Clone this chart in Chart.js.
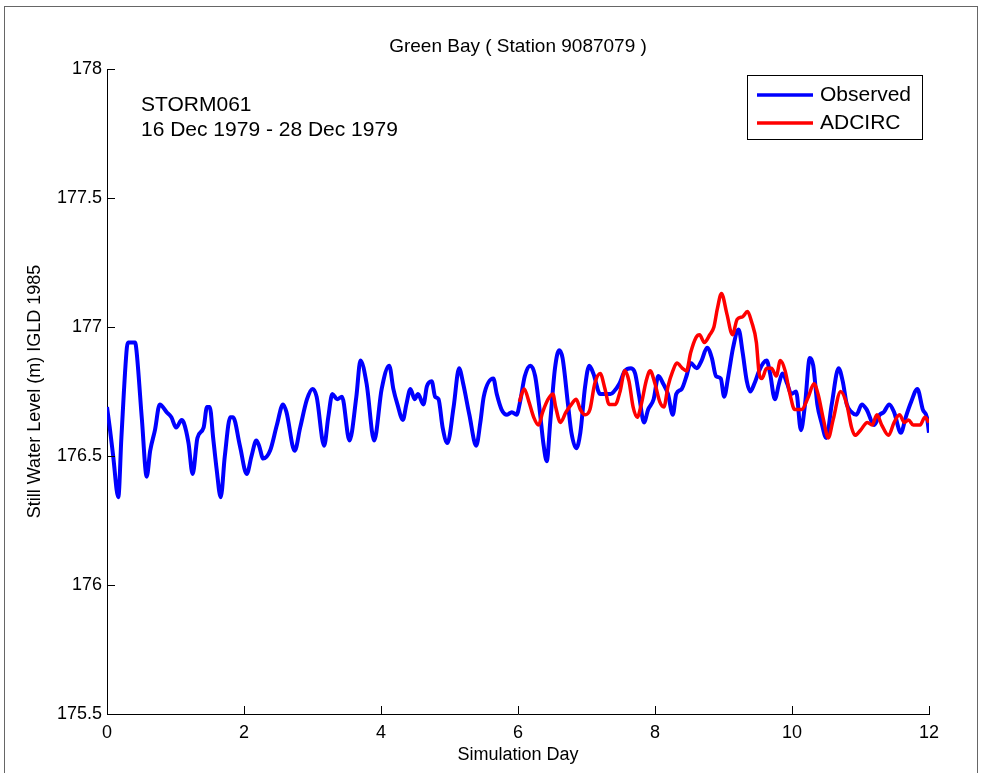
<!DOCTYPE html>
<html>
<head>
<meta charset="utf-8">
<title>Green Bay ( Station 9087079 )</title>
<script src="https://cdn.jsdelivr.net/npm/chart.js@4/dist/chart.umd.min.js"></script>
<style>
  html,body{margin:0;padding:0;background:#fff;}
  canvas{display:block;}
</style>
</head>
<body>
<canvas id="wl" width="981" height="773"></canvas>
<script>
const FONT = '"Liberation Sans", Arial, Helvetica, sans-serif';

// axis ticks
const X_TICKS = [0, 2, 4, 6, 8, 10, 12];
const Y_TICKS = [175.5, 176, 176.5, 177, 177.5, 178];

// observed gauge record (simulation day, water level m)
const obsDay = [
  0.00, 0.04, 0.09, 0.165, 0.21, 0.29, 0.31, 0.41, 0.43, 0.51, 0.58, 0.63, 0.70, 0.77, 0.87, 0.94,
  1.01, 1.09, 1.12, 1.19, 1.25, 1.32, 1.41, 1.46, 1.50, 1.55, 1.60, 1.66, 1.72, 1.80, 1.84, 1.94,
  2.04, 2.11, 2.18, 2.22, 2.28, 2.38, 2.48, 2.57, 2.62, 2.74, 2.82, 2.92, 3.00, 3.06, 3.17, 3.23,
  3.29, 3.36, 3.43, 3.54, 3.64, 3.70, 3.79, 3.90, 4.01, 4.12, 4.18, 4.24, 4.32, 4.37, 4.43, 4.49,
  4.54, 4.62, 4.67, 4.74, 4.79, 4.84, 4.90, 4.97, 5.06, 5.14, 5.20, 5.29, 5.39, 5.45, 5.50, 5.64,
  5.69, 5.76, 5.84, 5.91, 5.98, 6.03, 6.10, 6.18, 6.25, 6.32, 6.37, 6.42, 6.47, 6.54, 6.60, 6.65,
  6.73, 6.78, 6.85, 6.91, 6.98, 7.04, 7.10, 7.20, 7.29, 7.35, 7.40, 7.48, 7.56, 7.65, 7.71, 7.77,
  7.84, 7.90, 7.98, 8.05, 8.12, 8.19, 8.26, 8.31, 8.39, 8.46, 8.52, 8.61, 8.68, 8.76, 8.83, 8.89,
  8.96, 9.01, 9.07, 9.14, 9.22, 9.28, 9.34, 9.39, 9.45, 9.52, 9.58, 9.63, 9.68, 9.75, 9.81, 9.86,
  9.93, 9.99, 10.06, 10.13, 10.19, 10.26, 10.31, 10.37, 10.43, 10.50, 10.58, 10.68, 10.74, 10.80, 10.87, 10.94,
  11.02, 11.09, 11.20, 11.28, 11.34, 11.42, 11.49, 11.59, 11.66, 11.74, 11.83, 11.91, 11.97, 12.00
];
const obsLevel = [
  176.69, 176.61, 176.50, 176.34, 176.57, 176.92, 176.94, 176.94, 176.91, 176.64, 176.42, 176.52, 176.60, 176.70, 176.67, 176.65,
  176.61, 176.64, 176.63, 176.55, 176.43, 176.57, 176.61, 176.69, 176.69, 176.57, 176.45, 176.34, 176.50, 176.65, 176.65, 176.54,
  176.43, 176.50, 176.56, 176.54, 176.49, 176.52, 176.62, 176.70, 176.67, 176.52, 176.61, 176.72, 176.76, 176.73, 176.54, 176.65,
  176.74, 176.72, 176.73, 176.56, 176.73, 176.87, 176.78, 176.56, 176.76, 176.85, 176.76, 176.70, 176.64, 176.70, 176.76, 176.72,
  176.74, 176.70, 176.77, 176.79, 176.73, 176.72, 176.61, 176.55, 176.69, 176.84, 176.78, 176.66, 176.54, 176.63, 176.73, 176.80,
  176.74, 176.68, 176.66, 176.67, 176.66, 176.71, 176.81, 176.85, 176.81, 176.67, 176.55, 176.48, 176.63, 176.84, 176.91, 176.88,
  176.70, 176.59, 176.53, 176.59, 176.77, 176.85, 176.82, 176.74, 176.74, 176.74, 176.75, 176.78, 176.83, 176.84, 176.82, 176.73,
  176.63, 176.68, 176.72, 176.81, 176.78, 176.74, 176.66, 176.74, 176.76, 176.81, 176.86, 176.84, 176.87, 176.92, 176.88, 176.81,
  176.80, 176.73, 176.81, 176.92, 176.99, 176.90, 176.79, 176.75, 176.78, 176.83, 176.86, 176.87, 176.82, 176.72, 176.78, 176.82,
  176.78, 176.74, 176.75, 176.60, 176.70, 176.88, 176.85, 176.70, 176.63, 176.57, 176.70, 176.84, 176.79, 176.70, 176.67, 176.66,
  176.70, 176.68, 176.62, 176.66, 176.67, 176.70, 176.67, 176.59, 176.65, 176.71, 176.76, 176.68, 176.65, 176.59
];

// ADCIRC model run, starts at day 6
const adcDay = [
  6.02, 6.09, 6.16, 6.23, 6.30, 6.36, 6.44, 6.51, 6.55, 6.62, 6.70, 6.78, 6.85, 6.91, 6.98, 7.05,
  7.12, 7.20, 7.27, 7.33, 7.42, 7.49, 7.56, 7.62, 7.68, 7.74, 7.80, 7.87, 7.93, 8.00, 8.07, 8.13,
  8.19, 8.26, 8.32, 8.40, 8.46, 8.52, 8.60, 8.65, 8.72, 8.80, 8.86, 8.91, 8.97, 9.05, 9.13, 9.20,
  9.28, 9.35, 9.41, 9.48, 9.52, 9.56, 9.63, 9.70, 9.77, 9.83, 9.90, 9.97, 10.04, 10.14, 10.24, 10.32,
  10.38, 10.46, 10.53, 10.60, 10.71, 10.80, 10.87, 10.92, 11.00, 11.10, 11.17, 11.24, 11.31, 11.41, 11.49, 11.57,
  11.64, 11.70, 11.77, 11.87, 11.94, 12.00
];
const adcLevel = [
  176.71, 176.76, 176.71, 176.65, 176.62, 176.67, 176.72, 176.74, 176.69, 176.63, 176.67, 176.70, 176.72, 176.68, 176.66, 176.68,
  176.78, 176.82, 176.76, 176.70, 176.70, 176.75, 176.83, 176.79, 176.69, 176.65, 176.70, 176.79, 176.83, 176.78, 176.71, 176.69,
  176.77, 176.83, 176.86, 176.84, 176.83, 176.90, 176.96, 176.97, 176.94, 176.97, 177.00, 177.07, 177.13, 177.05, 176.97, 177.03,
  177.04, 177.06, 177.02, 176.94, 176.82, 176.80, 176.84, 176.84, 176.81, 176.87, 176.83, 176.74, 176.68, 176.68, 176.73, 176.78,
  176.74, 176.64, 176.57, 176.64, 176.75, 176.70, 176.61, 176.58, 176.60, 176.63, 176.62, 176.66, 176.62, 176.58, 176.63, 176.66,
  176.63, 176.64, 176.62, 176.62, 176.65, 176.63
];

const BLUE = '#0000ff', RED = '#ff0000';
const pts = (xs, ys) => xs.map((x, i) => ({x, y: ys[i]}));

// title, labels, inward tick marks, note and legend box
const decor = {
  id: 'decor',
  afterDraw(chart) {
    const c = chart.ctx, a = chart.chartArea;
    const xs = chart.scales.x, ys = chart.scales.y;
    c.save();
    // figure frame
    c.strokeStyle = '#666'; c.lineWidth = 1;
    c.strokeRect(4.5, 6.5, 973, 800);

    // inward ticks
    c.strokeStyle = '#000'; c.lineWidth = 1;
    c.beginPath();
    X_TICKS.forEach(v => {
      const px = Math.round(xs.getPixelForValue(v)) + 0.5;
      c.moveTo(px, a.bottom); c.lineTo(px, a.bottom - 8);
    });
    Y_TICKS.forEach(v => {
      const py = Math.round(ys.getPixelForValue(v)) + 0.5;
      c.moveTo(a.left, py); c.lineTo(a.left + 8, py);
    });
    c.stroke();

    c.fillStyle = '#000';
    c.textAlign = 'center'; c.textBaseline = 'middle';
    c.font = '19px ' + FONT;
    c.fillText('Green Bay ( Station 9087079 )', (a.left + a.right) / 2, 47);
    c.font = '18px ' + FONT;
    c.fillText('Simulation Day', (a.left + a.right) / 2, 755);
    c.save();
    c.translate(35, (a.top + a.bottom) / 2);
    c.rotate(-Math.PI / 2);
    c.fillText('Still Water Level (m) IGLD 1985', 0, 0);
    c.restore();

    // storm note
    c.textAlign = 'left';
    c.font = '21px ' + FONT;
    c.fillText('STORM061', 141, 105);
    c.fillText('16 Dec 1979 - 28 Dec 1979', 141, 130);

    // legend
    c.fillStyle = '#fff';
    c.fillRect(747, 75, 175, 64);
    c.strokeStyle = '#000';
    c.strokeRect(747.5, 75.5, 175, 64);
    c.lineWidth = 3.5;
    [[BLUE, 'Observed', 95], [RED, 'ADCIRC', 123]].forEach(([col, txt, y]) => {
      c.strokeStyle = col;
      c.beginPath(); c.moveTo(757, y); c.lineTo(813, y); c.stroke();
      c.fillStyle = '#000';
      c.font = '21px ' + FONT;
      c.fillText(txt, 820, y);
    });
    c.restore();
  }
};

new Chart(document.getElementById('wl'), {
  type: 'line',
  data: {
    datasets: [
      {label: 'Observed', data: pts(obsDay, obsLevel), borderColor: BLUE, borderWidth: 4,
       pointRadius: 0, cubicInterpolationMode: 'monotone', order: 1},
      {label: 'ADCIRC', data: pts(adcDay, adcLevel), borderColor: RED, borderWidth: 3.5,
       pointRadius: 0, cubicInterpolationMode: 'monotone', order: 0}
    ]
  },
  options: {
    responsive: false,
    animation: false,
    events: [],
    layout: {padding: {left: 0, top: 69, right: 52, bottom: 0}},
    plugins: {legend: {display: false}, tooltip: {enabled: false}},
    scales: {
      x: {
        type: 'linear', min: 0, max: 12,
        afterBuildTicks: s => { s.ticks = X_TICKS.map(v => ({value: v})); },
        afterFit: s => { s.height = 59; },
        grid: {display: false, drawTicks: false},
        border: {display: true, color: '#000', width: 1},
        ticks: {color: '#000', padding: 8, font: {family: FONT, size: 18}, maxRotation: 0}
      },
      y: {
        type: 'linear', min: 175.5, max: 178,
        afterBuildTicks: s => { s.ticks = Y_TICKS.map(v => ({value: v})); },
        afterFit: s => { s.width = 107; },
        grid: {display: false, drawTicks: false},
        border: {display: true, color: '#000', width: 1},
        ticks: {color: '#000', padding: 5, font: {family: FONT, size: 18},
                callback: v => String(+v.toFixed(1))}
      }
    }
  },
  plugins: [decor]
});
</script>
</body>
</html>
